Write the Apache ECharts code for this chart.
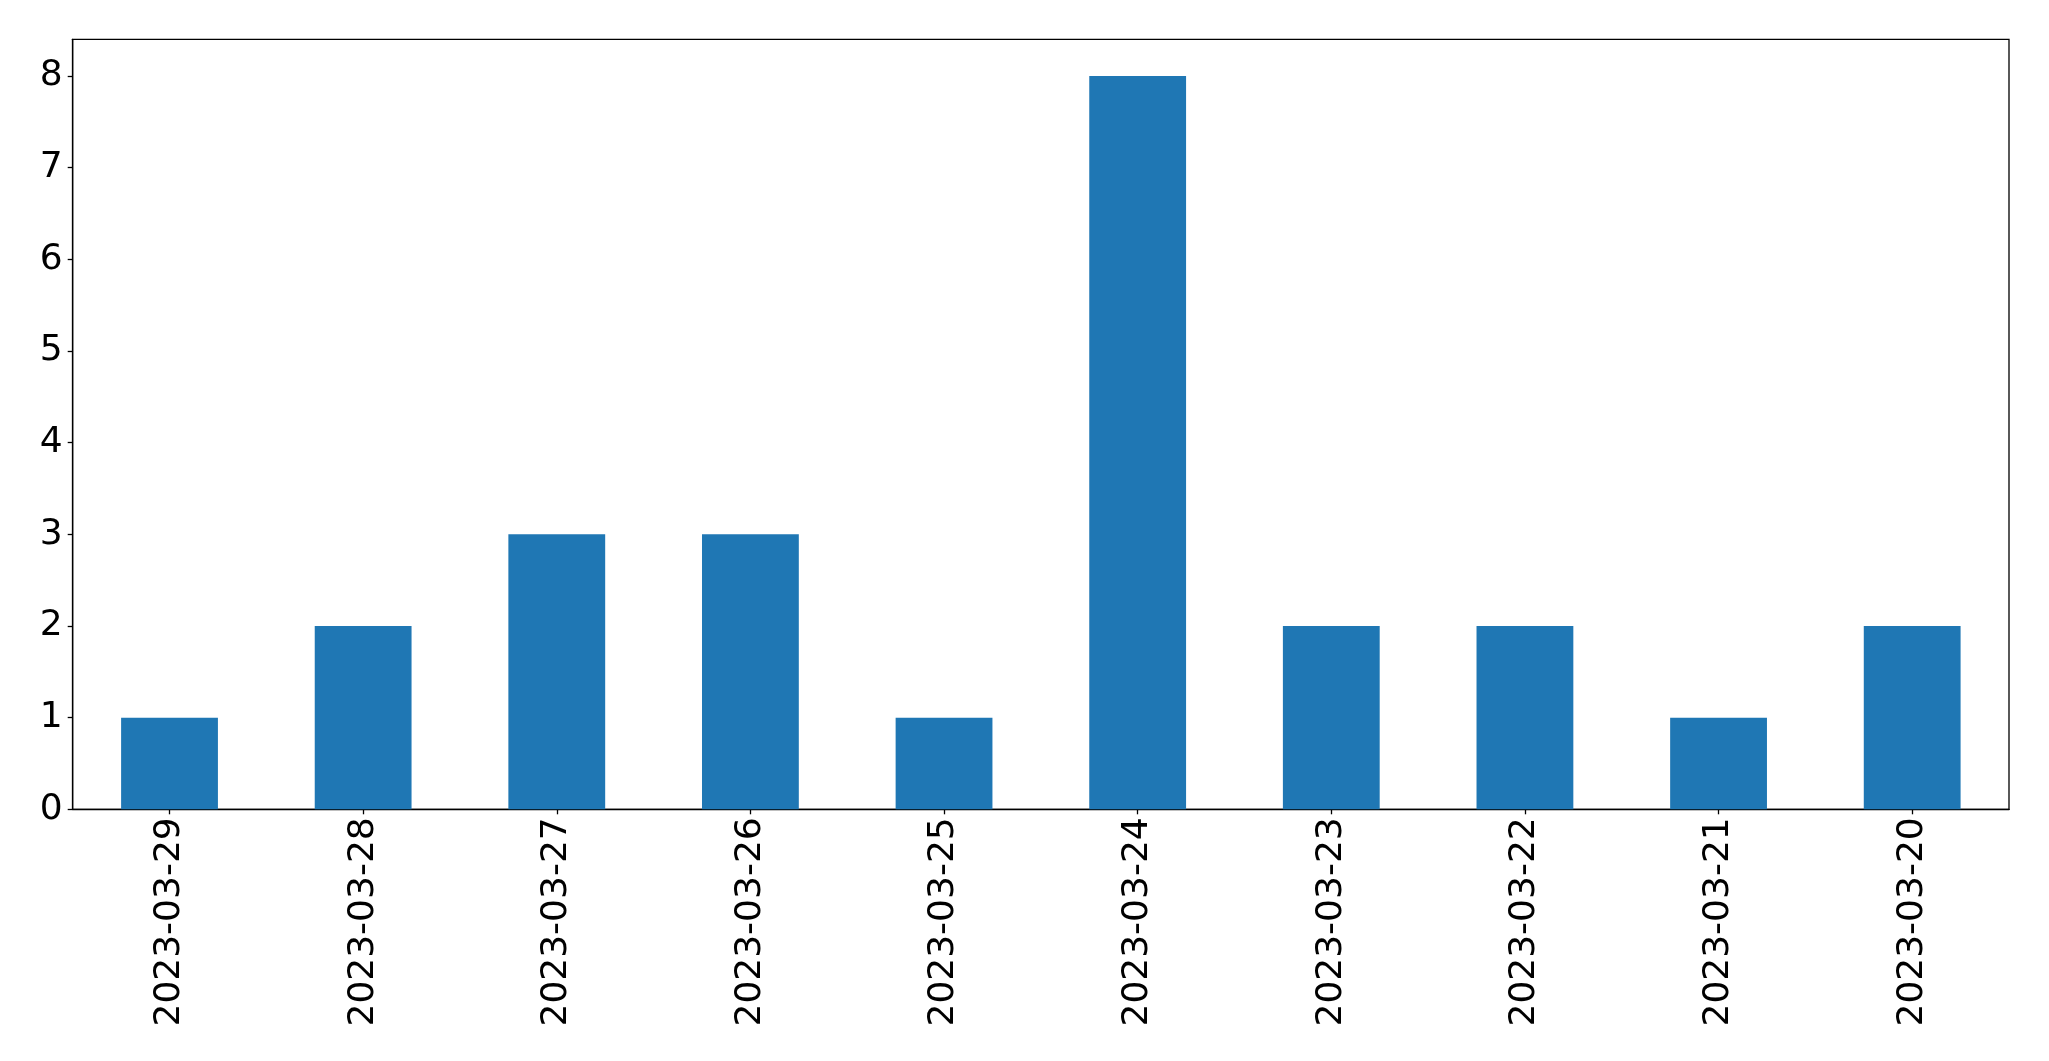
<!DOCTYPE html>
<html>
<head>
<meta charset="utf-8">
<script src="https://cdn.jsdelivr.net/npm/echarts@6/dist/echarts.min.js"></script>
<style>html,body{margin:0;padding:0;background:#fff}#c{width:2049px;height:1061px}</style>
</head>
<body>
<div id="c"></div>
<script>
const categories = ["2023-03-29","2023-03-28","2023-03-27","2023-03-26","2023-03-25","2023-03-24","2023-03-23","2023-03-22","2023-03-21","2023-03-20"];
const values = [1,2,3,3,1,8,2,2,1,2];
const yTicks = [0,1,2,3,4,5,6,7,8];

const chart = echarts.init(document.getElementById('c'), null, {renderer:'canvas'});
const font = 'DejaVu Sans';
chart.setOption({
  animation: false,
  backgroundColor: '#ffffff',
  grid: {left: 72.7, right: 40, top: 39.3, bottom: 251.7, show: true, borderColor: '#000', borderWidth: 1.3, backgroundColor: 'transparent'},
  xAxis: {
    type: 'category', data: categories, boundaryGap: true,
    axisLine: {show: true, lineStyle: {color: '#000', width: 1.3}},
    axisTick: {show: true, alignWithLabel: true, length: 5, lineStyle: {color: '#000', width: 1.3}},
    axisLabel: {rotate: 90, color: '#000', fontFamily: font, fontSize: 36, margin: 8, interval: 0},
    splitLine: {show: false}
  },
  yAxis: {
    type: 'value', min: 0, max: 8.4, interval: 1,
    axisLine: {show: true, lineStyle: {color: '#000', width: 1.3}},
    axisTick: {show: true, length: 5, lineStyle: {color: '#000', width: 1.3}, customValues: yTicks},
    axisLabel: {color: '#000', fontFamily: font, fontSize: 36, margin: 10, padding: [4, 0, 0, 0], customValues: yTicks},
    splitLine: {show: false}
  },
  series: [{
    type: 'bar', data: values, barWidth: '50%',
    itemStyle: {color: '#1f77b4'}
  }]
});
</script>
</body>
</html>
